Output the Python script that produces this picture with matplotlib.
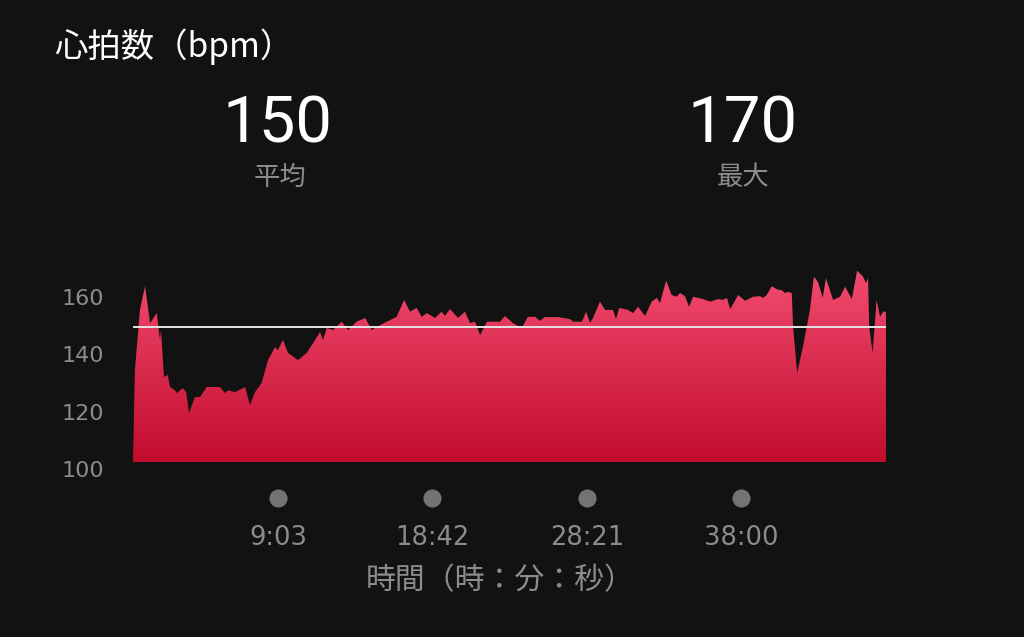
import numpy as np
import matplotlib.pyplot as plt
from matplotlib.colors import LinearSegmentedColormap
from matplotlib.transforms import blended_transform_factory

plt.rcParams['font.family'] = ['Noto Sans CJK JP', 'DejaVu Sans']

# heart rate samples: elapsed seconds, bpm
time_s = [0, 7, 26, 45, 64, 89, 101, 105, 116, 130, 139, 157, 164, 187, 199, 210,
          232, 251, 276, 326, 345, 356, 382, 420, 438, 457, 482, 506, 532, 543,
          562, 581, 618, 651, 675, 701, 712, 726, 750, 782, 806, 838, 870, 895,
          926, 951, 988, 1016, 1038, 1063, 1082, 1101, 1132, 1157, 1169, 1188,
          1218, 1244, 1263, 1282, 1301, 1326, 1376, 1394, 1424, 1457, 1480, 1507,
          1525, 1544, 1593, 1638, 1649, 1683, 1698, 1713, 1724, 1750, 1769, 1799,
          1810, 1822, 1855, 1874, 1893, 1919, 1944, 1963, 1975, 1998, 2019, 2038,
          2050, 2069, 2084, 2099, 2136, 2163, 2193, 2211, 2226, 2238, 2268, 2294,
          2324, 2350, 2361, 2375, 2394, 2413, 2431, 2444, 2455, 2469, 2474, 2489,
          2511, 2537, 2552, 2567, 2585, 2597, 2624, 2650, 2669, 2694, 2714, 2736,
          2747, 2755, 2759, 2772, 2787, 2800, 2811, 2822]
bpm = [103, 134.5, 155.5, 163.8, 150.9, 154.4, 145, 148.5, 132.1, 132.8, 128.6,
       127.5, 126.5, 128.2, 126.8, 119.5, 125.1, 125.1, 128.6, 128.6, 126.5,
       127.5, 126.8, 128.6, 122.3, 126.8, 130.0, 138.0, 142.5, 141.5, 145.0,
       140.5, 138.0, 140.5, 143.9, 147.8, 145.0, 149.2, 148.5, 151.4, 148.5,
       151.4, 152.7, 148.5, 150.2, 151.4, 153.1, 159.0, 154.9, 156.2, 153.1,
       154.4, 152.7, 154.9, 153.4, 155.8, 152.7, 154.9, 150.9, 151.4, 146.7,
       151.4, 151.4, 153.4, 150.9, 149.2, 153.1, 153.1, 151.7, 153.0, 153.0,
       152.3, 151.4, 151.4, 154.9, 151.0, 152.7, 158.4, 155.5, 155.5, 152.3,
       156.2, 155.5, 154.4, 156.6, 153.4, 158.4, 159.7, 157.9, 165.7, 160.7,
       160.1, 161.4, 160.3, 156.6, 160.1, 159.3, 158.4, 159.3, 159.0, 159.7,
       155.8, 160.7, 158.7, 160.1, 160.3, 159.7, 160.7, 163.8, 162.7, 162.4,
       161.4, 161.8, 161.4, 149.6, 133.5, 142.7, 155.5, 167.1, 165.3, 159.7,
       166.6, 159.0, 160.1, 163.6, 159.3, 169.2, 167.1, 164.9, 166.6, 149.6,
       140.5, 159.0, 153.1, 154.9, 154.9]

avg_bpm = 149.5
y_ticks = [100, 120, 140, 160]
x_ticks = [543, 1122, 1701, 2280]
x_labels = ['9:03', '18:42', '28:21', '38:00']
base = 102.4

bg = '#121212'
grey = '#8c8c8c'
fig = plt.figure(figsize=(10.24, 6.37), dpi=100, facecolor=bg)
ax = fig.add_axes([0.1299, 0.2637, 0.7353, 0.3150])
ax.set_facecolor(bg)
ax.set_xlim(0, time_s[-1])
ax.set_ylim(100, 170)
for s in ax.spines.values():
    s.set_visible(False)
ax.set_xticks([])
ax.set_yticks(y_ticks)
ax.set_yticklabels([str(v) for v in y_ticks], color=grey, fontsize=16,
                   family='DejaVu Sans')
ax.tick_params(axis='y', length=0, pad=21)

# gradient fill clipped to the heart-rate area
poly = ax.fill_between(time_s, bpm, base, color='none', lw=0)
cmap = LinearSegmentedColormap.from_list('hr', ['#c20c2e', '#f24c70'])
grad = np.linspace(0, 1, 256).reshape(-1, 1)
im = ax.imshow(grad, cmap=cmap, origin='lower', aspect='auto',
               extent=[0, time_s[-1], base, 170], zorder=1)
im.set_clip_path(poly.get_paths()[0], transform=ax.transData)

ax.axhline(avg_bpm, color='#e6e6e6', lw=1.4, zorder=3)

tr = blended_transform_factory(ax.transData, ax.transAxes)
ax.scatter(x_ticks, [-0.145] * len(x_ticks), s=170, color='#737373',
           transform=tr, clip_on=False, lw=0)
for x, lab in zip(x_ticks, x_labels):
    ax.text(x, -0.345, lab, transform=tr, ha='center', va='center',
            color=grey, fontsize=18.5, family='DejaVu Sans')

fig.text(0.053, 0.926, '心拍数（bpm）', color='white', fontsize=24,
         ha='left', va='center')
fig.text(0.271, 0.804, '150', color='white', fontsize=47, ha='center',
         va='center', family='Roboto')
fig.text(0.273, 0.721, '平均', color=grey, fontsize=19, ha='center', va='center')
fig.text(0.725, 0.804, '170', color='white', fontsize=47, ha='center',
         va='center', family='Roboto')
fig.text(0.726, 0.721, '最大', color=grey, fontsize=19, ha='center', va='center')
fig.text(0.488, 0.088, '時間（時：分：秒）', color=grey, fontsize=21.5,
         ha='center', va='center')

fig.savefig('out.png', dpi=100, facecolor=bg)
